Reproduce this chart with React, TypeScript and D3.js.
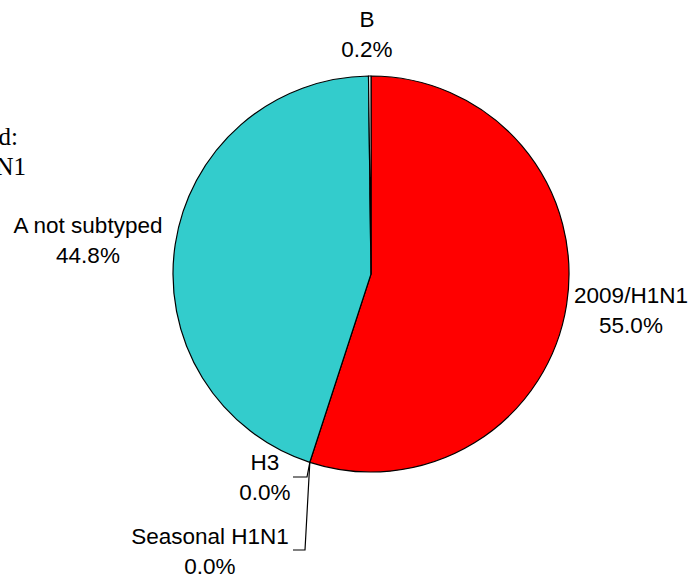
import React, { useRef, useEffect } from 'react';
import * as d3 from 'd3';

// slice order, clockwise from 12 o'clock
const labels = ['2009/H1N1', 'H3', 'Seasonal H1N1', 'A not subtyped', 'B'];
const values = [55.0, 0.0, 0.0, 44.8, 0.2];
const colors = ['#ff0000', '#ff00ff', '#0000ff', '#33cccc', '#ffffff'];
const titleLines = ['Subtyped:', 'H1N1'];

const App = () => {
  const ref = useRef<SVGSVGElement>(null);

  useEffect(() => {
    if (!ref.current) return;
    const svg = d3.select(ref.current);
    svg.selectAll('*').remove();

    const cx = 371;
    const cy = 274;
    const r = 198;

    const pie = d3.pie<number>().sort(null).value(d => d);
    const arcs = pie(values);
    const arc = d3.arc<d3.PieArcDatum<number>>().innerRadius(0).outerRadius(r);

    const g = svg.append('g').attr('transform', `translate(${cx},${cy})`);

    g.selectAll('path')
      .data(arcs.filter(d => d.endAngle - d.startAngle > 0))
      .enter()
      .append('path')
      .attr('d', arc)
      .attr('fill', d => colors[d.index])
      .attr('stroke', '#000')
      .attr('stroke-width', 1.2)
      .attr('stroke-linejoin', 'round');

    const font = '"Liberation Sans", Arial, sans-serif';
    const fs = 22.5;

    // label blocks: [index, center x, first baseline]
    const blocks: [number, number, number][] = [
      [0, 631, 303],
      [1, 265, 470],
      [2, 210, 544],
      [3, 88, 233],
      [4, 367, 27]
    ];

    blocks.forEach(([i, x, y]) => {
      const t = svg.append('text')
        .attr('font-family', font)
        .attr('font-size', fs)
        .attr('fill', '#000')
        .attr('text-anchor', 'middle');
      t.append('tspan').attr('x', x).attr('y', y).text(labels[i]);
      t.append('tspan').attr('x', x).attr('y', y + 30).text(`${values[i].toFixed(1)}%`);
    });

    // leader lines for the zero slices
    const edge = (a: number) => [cx + r * Math.sin(a), cy - r * Math.cos(a)];
    const [px, py] = edge(arcs[1].startAngle);
    const leaders = [
      [[px, py], [307, 477], [293, 477]],
      [[px, py], [305, 550], [293, 550]]
    ];
    leaders.forEach(pts => {
      svg.append('path')
        .attr('d', d3.line()(pts as [number, number][]))
        .attr('fill', 'none')
        .attr('stroke', '#000')
        .attr('stroke-width', 1.2);
    });

    // title, mostly outside the visible area (as in the reference)
    const title = svg.append('text')
      .attr('font-family', '"Liberation Serif", "Times New Roman", serif')
      .attr('font-size', 25)
      .attr('fill', '#000')
      .attr('text-anchor', 'end');
    title.append('tspan').attr('x', 18).attr('y', 145).text(titleLines[0]);
    title.append('tspan').attr('x', 26).attr('y', 175).text(titleLines[1]);
  }, []);

  return (
    <svg
      ref={ref}
      width={690}
      height={580}
      style={{ position: 'absolute', left: 0, top: 0, background: '#fff' }}
    />
  );
};

export default App;
